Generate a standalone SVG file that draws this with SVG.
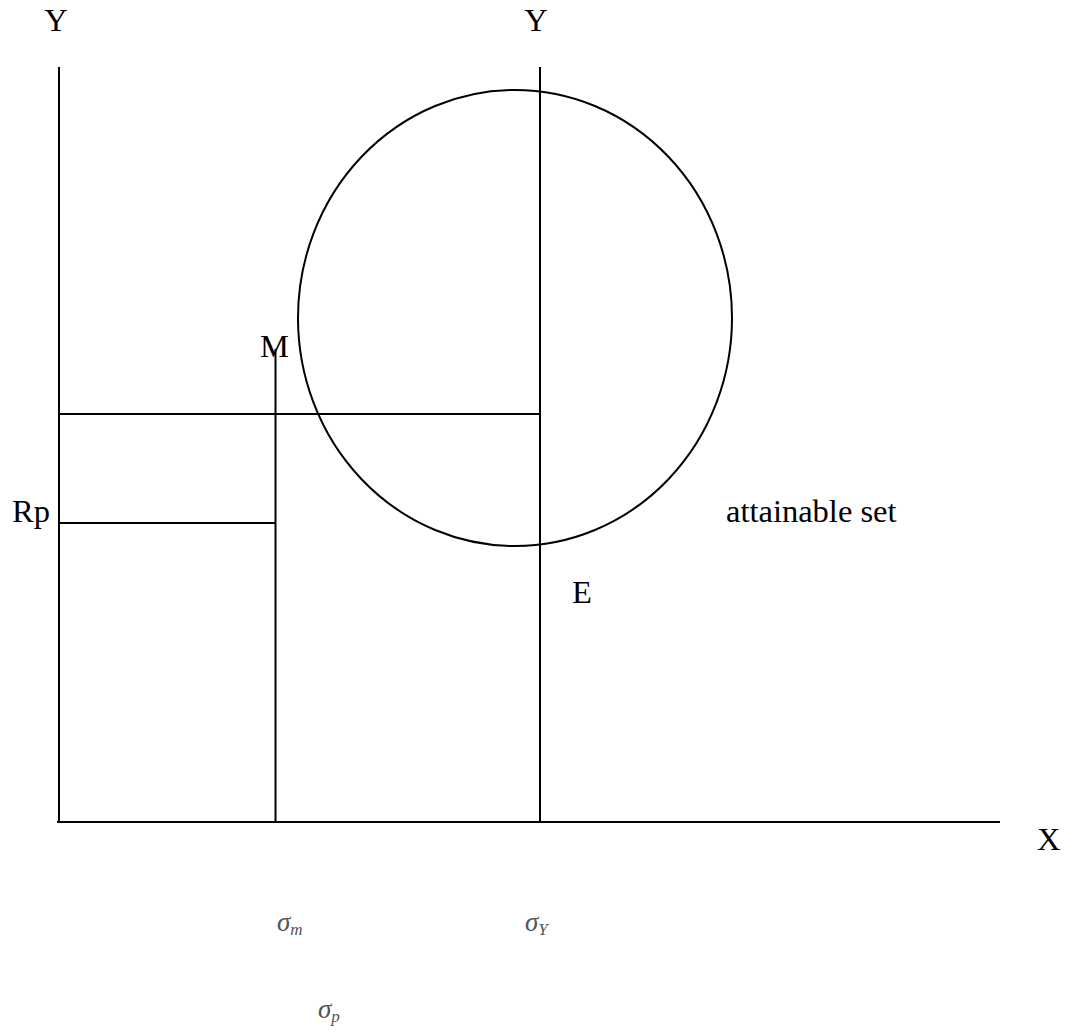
<svg xmlns="http://www.w3.org/2000/svg" width="1073" height="1035" viewBox="0 0 1073 1035">
<style>
.ln{stroke:#000;stroke-width:2;fill:none}
.t{font-family:"Liberation Serif",serif;font-size:32.5px;fill:#000}
.s{font-family:"Liberation Serif",serif;font-style:italic;font-size:27px;fill:#555}
.sub{font-size:17px}
</style>
<rect width="1073" height="1035" fill="#fff"/>
<g id="connectors">
<line class="ln" x1="59" y1="67" x2="59" y2="823"/>
<line class="ln" x1="540" y1="67" x2="540" y2="823"/>
<line class="ln" x1="57" y1="822" x2="1000" y2="822"/>
<line class="ln" x1="59" y1="414" x2="540" y2="414"/>
<line class="ln" x1="59" y1="523" x2="275" y2="523"/>
<line class="ln" x1="275.5" y1="349" x2="275.5" y2="822"/>
</g>
<g id="attainable-set">
<ellipse class="ln" cx="515" cy="318" rx="217" ry="228" stroke-width="1.5"/>
</g>
<g id="labels">
<text class="t" x="56" y="31" text-anchor="middle">Y</text>
<text class="t" x="536" y="31" text-anchor="middle">Y</text>
<text class="t" x="260" y="357">M</text>
<text class="t" x="12" y="522">Rp</text>
<text class="t" x="726" y="522">attainable set</text>
<text class="t" x="572" y="603">E</text>
<text class="t" x="1037" y="850">X</text>
<text class="s" x="277" y="931">σ<tspan class="sub" dy="4">m</tspan></text>
<text class="s" x="525" y="931">σ<tspan class="sub" dy="4">Y</tspan></text>
<text class="s" x="318" y="1018">σ<tspan class="sub" dy="4">p</tspan></text>
</g>
</svg>
